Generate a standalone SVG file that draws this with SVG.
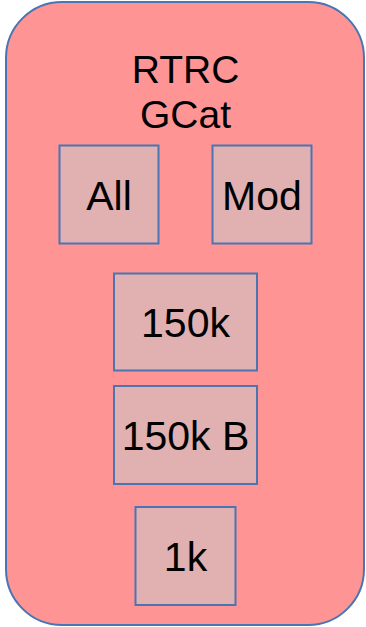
<svg xmlns="http://www.w3.org/2000/svg" width="366" height="627" viewBox="0 0 366 627">
<style>
.outer{fill:#ff9494;stroke:#4a74b2;stroke-width:2}
.box{fill:#e1b0b0;stroke:#4a74b2;stroke-width:2}
text{font-family:"Liberation Sans",Arial,sans-serif;fill:#000;text-anchor:middle}
.t{font-size:39px}
.b{font-size:41px}
</style>
<rect x="0" y="0" width="366" height="627" fill="#ffffff"/>
<g id="container">
<rect class="outer" x="6" y="2" width="358" height="623" rx="56" ry="56"/>
<text class="t" x="185.5" y="83">RTRC</text>
<text class="t" x="185.5" y="128">GCat</text>
</g>
<g id="connectors"></g>
<g id="all">
<rect class="box" x="59.5" y="145.5" width="99" height="98"/>
<text class="b" x="109" y="210">All</text>
</g>
<g id="mod">
<rect class="box" x="212.5" y="145.5" width="99" height="98"/>
<text class="b" x="262" y="210">Mod</text>
</g>
<g id="n150k">
<rect class="box" x="114" y="273.5" width="143" height="97"/>
<text class="b" x="185.5" y="337">150k</text>
</g>
<g id="n150kB">
<rect class="box" x="114" y="386" width="143" height="98"/>
<text class="b" x="185.5" y="450">150k B</text>
</g>
<g id="n1k">
<rect class="box" x="135.5" y="507" width="100" height="98"/>
<text class="b" x="185.5" y="571">1k</text>
</g>
</svg>
